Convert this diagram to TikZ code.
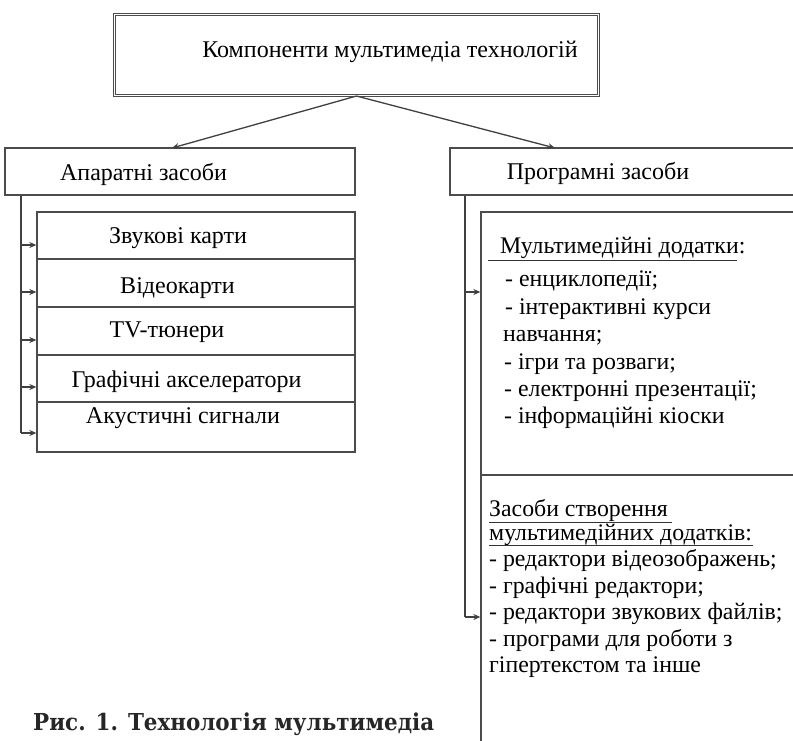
\documentclass[tikz,border=0pt]{standalone}
\usepackage{fontspec}
\setmainfont{Liberation Serif}
\newfontfamily\capfont[FakeStretch=0.92]{DejaVu Serif}
\usetikzlibrary{arrows.meta}
\begin{document}
\begin{tikzpicture}[x=1pt,y=-1pt,
  box/.style={draw=black!70, line width=1.3pt, fill=white, inner sep=0pt},
  arr/.style={draw=black!75, line width=1.3pt, -{Stealth[length=7pt,width=6pt]}},
  trunk/.style={draw=black!75, line width=1.3pt},
  lbl/.style={font=\fontsize{24}{28}\selectfont, text=black, inner sep=0pt},
  lst/.style={font=\fontsize{23.8}{27}\selectfont, text=black, inner sep=0pt, anchor=base west},
  uline/.style={draw=black!80, line width=1pt},
]
\useasboundingbox (0,0) rectangle (793,740);
\clip (0,0) rectangle (793,740);
\fill[white] (0,0) rectangle (793,740);

% top
\node[box, double, double distance=1.4pt, line width=1pt, minimum width=484pt, minimum height=81pt] (top) at (356.5,55) {};
\node[lbl] (toptxt) at (390,52) {Компоненти мультимедіа технологій};

% level 2
\node[box, minimum width=350pt, minimum height=47pt] (hw) at (180,171.5) {};
\node[lbl] (hwtxt) at (143.5,174) {Апаратні засоби};
\node[box, minimum width=380pt, minimum height=47pt] (sw) at (640,171.5) {};
\node[lbl] (swtxt) at (598,173) {Програмні засоби};

\draw[arr] (top.south) -- (172,148) coordinate (hwin);
\draw[arr] (top.south) -- (555,148) coordinate (swin);

% hardware cells
\node[box, minimum width=318pt, minimum height=47pt] (c1) at (196,235.5) {};
\node[box, minimum width=318pt, minimum height=48pt] (c2) at (196,283) {};
\node[box, minimum width=318pt, minimum height=48pt] (c3) at (196,331) {};
\node[box, minimum width=318pt, minimum height=47pt] (c4) at (196,378.5) {};
\node[box, minimum width=318pt, minimum height=50pt] (c5) at (196,427) {};
\node[lbl] at (178,238) {Звукові карти};
\node[lbl] at (177.5,288) {Відеокарти};
\node[lbl] at (167,332) {TV-тюнери};
\node[lbl] at (186.5,382) {Графічні акселератори};
\node[lbl] at (183,418) {Акустичні сигнали};

\coordinate (a1) at (21,245);
\coordinate (a2) at (21,292);
\coordinate (a3) at (21,340);
\coordinate (a4) at (21,387);
\coordinate (a5) at (21,433);
\draw[trunk] (hw.south -| a5) -- (a5);
\draw[arr] (a5) -- (a5 -| c5.west);
\draw[arr] (a1) -- (a1 -| c1.west);
\draw[arr] (a2) -- (a2 -| c2.west);
\draw[arr] (a3) -- (a3 -| c3.west);
\draw[arr] (a4) -- (a4 -| c4.west);

% software boxes
\node[box, minimum width=360pt, minimum height=263pt] (r1) at (661,343.5) {};
\node[box, minimum width=360pt, minimum height=300pt] (r2) at (661,625) {};

\coordinate (b1) at (465,292);
\coordinate (b2) at (465,617);
\draw[trunk] (sw.south -| b2) -- (b2);
\draw[arr] (b2) -- (b2 -| r2.west);
\draw[arr] (b1) -- (b1 -| r1.west);

% texts right, box 1
\node[lst] (h1) at (500,253) {Мультимедійні додатки:};
\draw[uline] (488,260) -- (737,260);
\node[lst] at (505,286) {- енциклопедії;};
\node[lst] at (505,314) {- інтерактивні курси};
\node[lst] at (503,341) {навчання;};
\node[lst] at (504,369) {- ігри та розваги;};
\node[lst] at (504,396) {- електронні презентації;};
\node[lst] at (504,423) {- інформаційні кіоски};

% box 2
\node[lst] (h2) at (489,516) {Засоби створення};
\draw[uline] (489,522) -- (672,522);
\node[lst] (h3) at (489,540) {мультимедійних додатків:};
\draw[uline] (489,545) -- (753,545);
\node[lst] at (489,566) {- редактори відеозображень;};
\node[lst] at (489,593) {- графічні редактори;};
\node[lst] at (489,619) {- редактори звукових файлів;};
\node[lst] at (489,646) {- програми для роботи з};
\node[lst] at (489,672) {гіпертекстом та інше};

% caption
\node[inner sep=0pt, anchor=base west, font=\capfont\bfseries\fontsize{23.3}{26}\selectfont, text=black!85] (cap) at (33,730) {Рис. 1. Технологія мультимедіа};
\end{tikzpicture}
\end{document}
